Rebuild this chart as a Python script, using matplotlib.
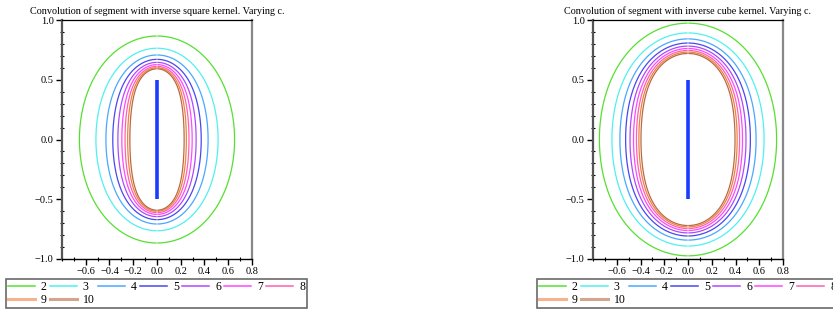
import numpy as np
import matplotlib
matplotlib.use("Agg")
import matplotlib.pyplot as plt
from matplotlib.lines import Line2D
from matplotlib.ticker import MultipleLocator, FixedLocator

# Contour levels (values of c) and the source segment
levels = [2, 3, 4, 5, 6, 7, 8, 9, 10]
level_labels = ["2", "3", "4", "5", "6", "7", "8", "9", "10"]
seg_x = [0.0, 0.0]
seg_y = [-0.5, 0.5]
titles = ["Convolution of segment with inverse square kernel. Varying c.",
          "Convolution of segment with inverse cube kernel. Varying c."]
xticks = [-0.6, -0.4, -0.2, 0.0, 0.2, 0.4, 0.6, 0.8]
yticks = [-1.0, -0.5, 0.0, 0.5, 1.0]

colors = ["#55e030", "#50f0f0", "#48a8ff", "#4848f0", "#b048ff",
          "#ff48ff", "#ff60b0", "#f08040", "#b86a40"]

plt.rcParams["font.family"] = ["Liberation Serif", "DejaVu Serif"]

# potential of the segment x=0, -0.5<=t<=0.5
xs = np.linspace(-0.8, 0.8, 641)
ys = np.linspace(-1.0, 1.0, 801)
X, Y = np.meshgrid(xs, ys)


def square_kernel(x, y):
    return (np.arctan((y + 0.5) / x) - np.arctan((y - 0.5) / x)) / x


def cube_kernel(x, y):
    def F(u):
        return u / (x ** 2 * np.sqrt(x ** 2 + u ** 2))
    return F(y + 0.5) - F(y - 0.5)


fields = [square_kernel(X, Y), cube_kernel(X, Y)]

fig = plt.figure(figsize=(8.33, 3.14), dpi=100)
ax_lefts = [62 / 833, 593 / 833]
leg_lefts = [6 / 833, 537 / 833]

# legend fills column by column; order so rows read 2..8 then 9, 10
order = [0, 7, 1, 8, 2, 3, 4, 5, 6]

for i in range(2):
    ax = fig.add_axes([ax_lefts[i], 55 / 314, 190 / 833, 239 / 314])
    ax.contour(X, Y, fields[i], levels=levels, colors=colors, linewidths=0.9)
    ax.plot(seg_x, seg_y, color="#1a3cff", lw=2.6, solid_capstyle="butt")
    ax.set_xlim(-0.8, 0.8)
    ax.set_ylim(-1.0, 1.0)
    ax.xaxis.set_major_locator(FixedLocator(xticks))
    ax.yaxis.set_major_locator(FixedLocator(yticks))
    ax.xaxis.set_minor_locator(MultipleLocator(0.1))
    ax.yaxis.set_minor_locator(MultipleLocator(0.1))
    ax.set_xticklabels(["%.1f" % v if v >= 0 else "\u2212%.1f" % -v for v in xticks])
    ax.set_yticklabels(["%.1f" % v if v >= 0 else "\u2212%.1f" % -v for v in yticks])
    ax.tick_params(which="major", direction="out", length=4, width=1, labelsize=7.5, pad=2)
    ax.tick_params(which="minor", direction="inout", length=3, width=0.8)
    ax.spines["left"].set_color("#555555")
    ax.spines["left"].set_linewidth(1.6)
    ax.spines["bottom"].set_linewidth(1.0)
    ax.spines["top"].set_linewidth(0.9)
    ax.spines["right"].set_color("#888888")
    ax.spines["right"].set_linewidth(1.6)
    ax.set_title(titles[i], fontsize=7.3, pad=4)

    handles = [Line2D([], [], color=c, lw=1.1 if j < 7 else 2.2,
                      alpha=1.0 if j < 7 else 0.6) for j, c in enumerate(colors)]
    leg = fig.legend([handles[k] for k in order], [level_labels[k] for k in order],
                     ncol=7, mode="expand",
                     bbox_to_anchor=(leg_lefts[i], 6 / 314, 301 / 833, 30 / 314),
                     loc="lower left", fontsize=8.5, handlelength=2.3, handletextpad=0.5,
                     borderaxespad=0, borderpad=0.15, labelspacing=0.1,
                     fancybox=False, frameon=True)
    leg.get_frame().set_edgecolor("#444444")
    leg.get_frame().set_linewidth(1.2)

fig.savefig("out.png", dpi=100)
